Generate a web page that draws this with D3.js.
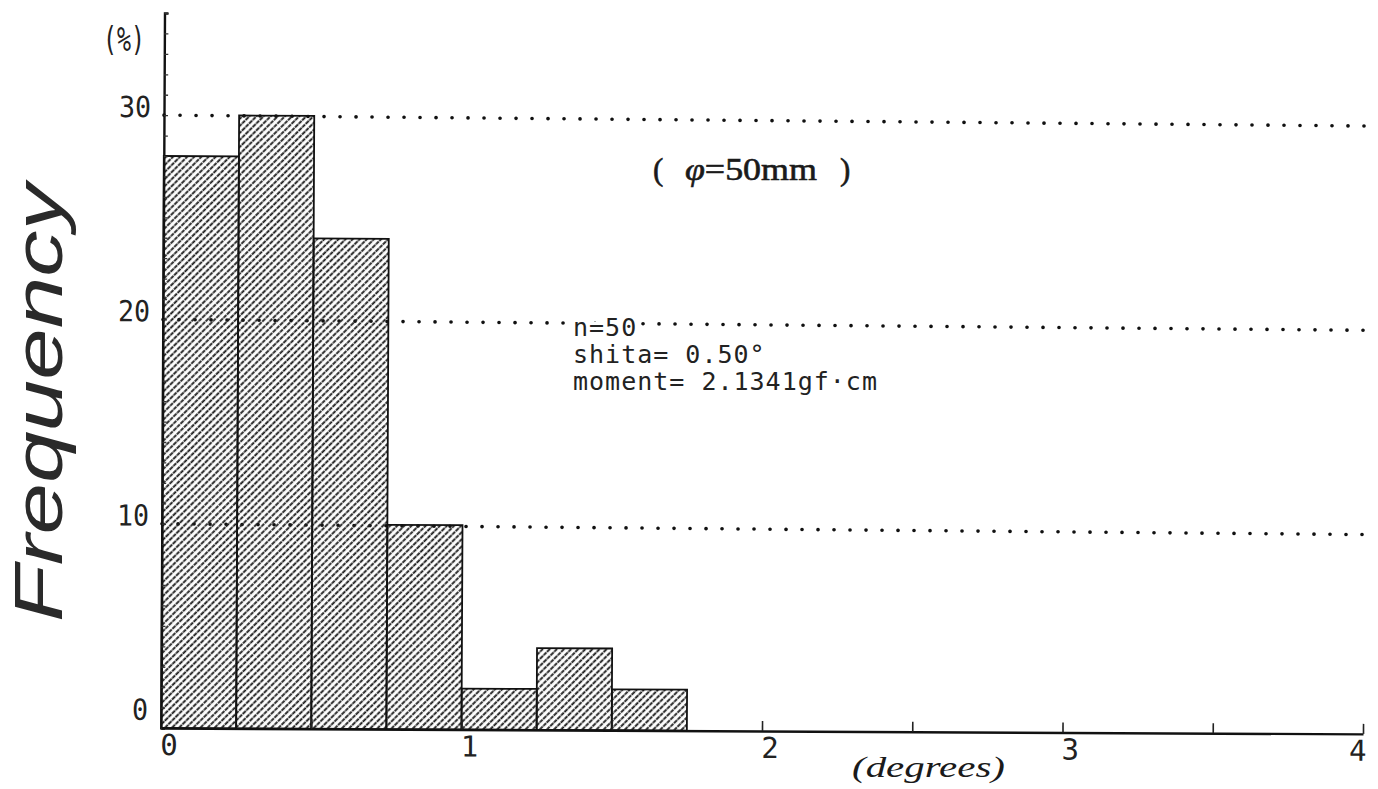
<!DOCTYPE html>
<html>
<head>
	<title>Frequency</title>
	<script src="https://d3js.org/d3.v7.min.js"></script>
	<style>
	body{
		margin: 0;
		background: #ffffff;
	}
	.mono{
		font-family: "DejaVu Sans Mono", "Liberation Mono", monospace;
		fill: #222222;
	}
	.serif{
		font-family: "Liberation Serif", "DejaVu Serif", serif;
		fill: #1a1a1a;
	}
	</style>
</head>
<body>
	<div id="chart"></div>

	<script>
		// histogram bins (degrees) and frequency in %
		var binEdges = [0, 0.25, 0.5, 0.75, 1.0, 1.25, 1.5, 1.75];
		var freqPct = [28, 30, 24, 10, 2, 4, 2];

		var yLabelTicks = [0, 10, 20, 30];
		var gridValues = [10, 20, 30];
		var xLabelTicks = [0, 1, 2, 3, 4];
		var xMinorTicks = [0.5, 1, 1.5, 2, 2.5, 3, 3.5, 4];
		var infoLines = ["n=50", "shita= 0.50\u00b0", "moment= 2.1341gf\u00b7cm"];

		var width = 1378,
			height = 789;

		var svg = d3.select("#chart")
			.append("svg")
			.attr("width", width)
			.attr("height", height);

		var defs = svg.append("defs");
		var hatch = defs.append("pattern")
			.attr("id", "hatch")
			.attr("patternUnits", "userSpaceOnUse")
			.attr("width", 5)
			.attr("height", 10)
			.attr("patternTransform", "rotate(45)");
		hatch.append("line")
			.attr("x1", 1.2).attr("y1", -1)
			.attr("x2", 1.2).attr("y2", 11)
			.attr("stroke", "#1c1c1c")
			.attr("stroke-width", 1.9)
			.attr("stroke-dasharray", "4,0.7");

		var x = d3.scaleLinear().domain([0, 4]).range([161, 1363]);
		var y = d3.scaleLinear().domain([0, 35]).range([728, 13]);

		// the scan is a little rotated
		var plot = svg.append("g").attr("transform", "rotate(0.28 161 728)");

		// dotted grid lines
		plot.selectAll(".grid")
			.data(gridValues)
			.enter().append("line")
			.attr("class", "grid")
			.attr("x1", x(0))
			.attr("x2", x(4))
			.attr("y1", function(d){ return y(d); })
			.attr("y2", function(d){ return y(d) + 5; })
			.attr("stroke", "#111")
			.attr("stroke-width", 3.6)
			.attr("stroke-linecap", "round")
			.attr("stroke-dasharray", "0.1,15.9");

		// bars
		var bins = freqPct.map(function(v, i){
			return {x0: binEdges[i], x1: binEdges[i + 1], v: v};
		});
		plot.selectAll(".bar")
			.data(bins)
			.enter().append("rect")
			.attr("class", "bar")
			.attr("x", function(d){ return x(d.x0); })
			.attr("width", function(d){ return x(d.x1) - x(d.x0); })
			.attr("y", function(d){ return y(d.v); })
			.attr("height", function(d){ return y(0) - y(d.v); })
			.attr("fill", "url(#hatch)")
			.attr("stroke", "#111")
			.attr("stroke-width", 1.8);

		// y axis: line with small inward ticks every 1%
		var yAxis = d3.axisRight(y)
			.tickValues(d3.range(0, 36, 1))
			.tickSize(4)
			.tickFormat("");
		var gy = plot.append("g")
			.attr("transform", "translate(" + x(0) + ",0)")
			.call(yAxis);
		gy.select(".domain").attr("stroke", "#111").attr("stroke-width", 2.4);
		gy.selectAll(".tick line").attr("stroke", "#333").attr("stroke-width", 1.3);

		// x axis: ticks pointing up
		var xAxis = d3.axisTop(x)
			.tickValues(xMinorTicks)
			.tickSize(10)
			.tickSizeOuter(0)
			.tickFormat("");
		var gx = plot.append("g")
			.attr("transform", "translate(0," + y(0) + ")")
			.call(xAxis);
		gx.select(".domain").attr("stroke", "#111").attr("stroke-width", 2.4);
		gx.selectAll(".tick line").attr("stroke", "#222").attr("stroke-width", 1.6);

		// tick labels
		plot.selectAll(".ylab")
			.data(yLabelTicks)
			.enter().append("text")
			.attr("class", "ylab mono")
			.attr("x", 148)
			.attr("y", function(d){ return y(d) - 6 + (d === 0 ? -10 : 0); })
			.attr("text-anchor", "end")
			.attr("dominant-baseline", "middle")
			.attr("font-size", 29)
			.attr("textLength", function(d){ return String(d).length * 16; })
			.attr("lengthAdjust", "spacingAndGlyphs")
			.text(function(d){ return d; });

		plot.selectAll(".xlab")
			.data(xLabelTicks)
			.enter().append("text")
			.attr("class", "xlab mono")
			.attr("x", function(d, i){ return x(d) + (i === xLabelTicks.length - 1 ? -5 : 8); })
			.attr("y", 755)
			.attr("text-anchor", "middle")
			.attr("font-size", 29)
			.text(function(d){ return d; });

		svg.append("text")
			.attr("class", "mono")
			.attr("x", 124)
			.attr("y", 51)
			.attr("text-anchor", "middle")
			.attr("font-size", 33)
			.attr("textLength", 42)
			.attr("lengthAdjust", "spacingAndGlyphs")
			.text("(%)");

		// axis titles
		svg.append("text")
			.attr("class", "serif")
			.attr("x", 852)
			.attr("y", 777)
			.attr("font-size", 29)
			.attr("font-style", "italic")
			.attr("textLength", 153)
			.attr("lengthAdjust", "spacingAndGlyphs")
			.text("(degrees)");

		svg.append("text")
			.attr("transform", "translate(62,622) rotate(-90)")
			.attr("font-family", "Liberation Sans, Arial, sans-serif")
			.attr("font-style", "italic")
			.attr("font-size", 68)
			.attr("fill", "#2a2a2a")
			.attr("textLength", 438)
			.attr("lengthAdjust", "spacingAndGlyphs")
			.text("Frequency");

		// diameter note
		var note = svg.append("g")
			.attr("class", "serif")
			.attr("font-size", 31)
			.attr("stroke", "#1a1a1a")
			.attr("stroke-width", 0.6);
		note.append("text").attr("x", 653).attr("y", 180).text("(");
		var mid = note.append("text")
			.attr("x", 685).attr("y", 180)
			.attr("textLength", 132)
			.attr("lengthAdjust", "spacingAndGlyphs");
		mid.append("tspan").attr("font-style", "italic").text("\u03c6");
		mid.append("tspan").text("=50mm");
		note.append("text").attr("x", 840).attr("y", 180).text(")");

		// info block (white halo keeps the dotted line off the text)
		svg.selectAll(".info")
			.data(infoLines)
			.enter().append("text")
			.attr("class", "info mono")
			.attr("x", 573)
			.attr("y", function(d, i){ return 336 + i * 27; })
			.attr("font-size", 25)
			.attr("letter-spacing", 1)
			.attr("stroke", "#ffffff")
			.attr("stroke-width", 6)
			.attr("paint-order", "stroke")
			.text(function(d){ return d; });
	</script>
</body>
</html>
